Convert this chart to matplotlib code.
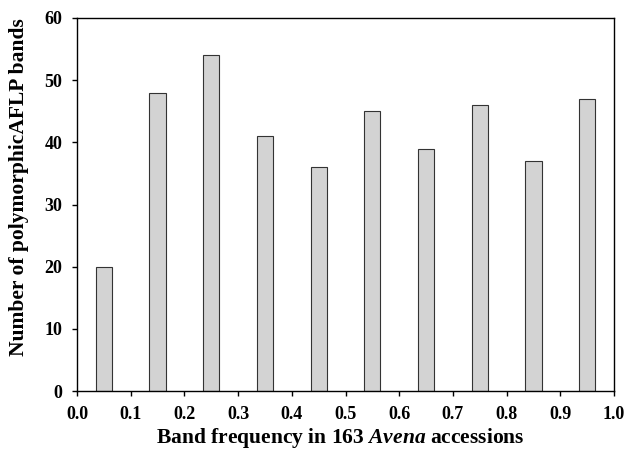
import matplotlib
matplotlib.use("Agg")
import matplotlib.pyplot as plt

freq = [0.05, 0.15, 0.25, 0.35, 0.45, 0.55, 0.65, 0.75, 0.85, 0.95]
counts = [20, 48, 54, 41, 36, 45, 39, 46, 37, 47]
xticks = [0.0, 0.1, 0.2, 0.3, 0.4, 0.5, 0.6, 0.7, 0.8, 0.9, 1.0]
yticks = [0, 10, 20, 30, 40, 50, 60]

plt.rcParams['font.family'] = ['Liberation Serif', 'DejaVu Serif']
plt.rcParams['font.weight'] = 'bold'
plt.rcParams['mathtext.fontset'] = 'custom'
plt.rcParams['mathtext.rm'] = 'Liberation Serif:bold'
plt.rcParams['mathtext.bfit'] = 'Liberation Serif:italic:bold'
plt.rcParams['mathtext.it'] = 'Liberation Serif:italic:bold'

fig = plt.figure(figsize=(6.26, 4.5), dpi=100)
ax = fig.add_axes([77/626, 1 - 391/450, (614-77)/626, (391-18)/450])

ax.bar(freq, counts, width=0.03, color='#d3d3d3', edgecolor='#333333', linewidth=0.8)
ax.set_xlim(0, 1.0)
ax.set_ylim(0, 60)
ax.set_xticks(xticks)
ax.set_xticklabels([f"{t:.1f}" for t in xticks])
ax.set_yticks(yticks)
ax.tick_params(direction='out', length=3.5, width=1, labelsize=13, pad=7)
for s in ax.spines.values():
    s.set_linewidth(1)
ax.set_xlabel(r'Band frequency in 163 $\mathit{Avena}$ accessions', fontsize=15.5, fontweight='bold')
ax.set_ylabel('Number of polymorphicAFLP bands', fontsize=15.5, fontweight='bold')
ax.xaxis.set_label_coords((340.5 - 77) / 537, (391 - 426) / 373)
ax.yaxis.set_label_coords((29 - 77) / 537, (391 - 187.5) / 373)

fig.savefig('out.png', dpi=100)
